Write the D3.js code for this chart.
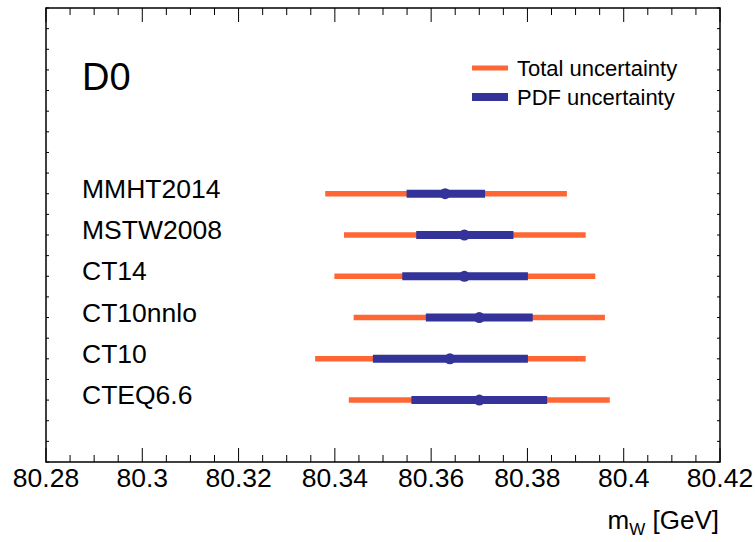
<!DOCTYPE html>
<html><head><meta charset="utf-8">
<script src="https://cdn.jsdelivr.net/npm/d3@7"></script>
<style>body{margin:0;background:#fff} text{font-family:"Liberation Sans",Arial,Helvetica,sans-serif;fill:#000}</style>
</head><body><svg id="c" width="755" height="542"></svg>
<script>
// ---- data ----
const pdfSets   = ["MMHT2014","MSTW2008","CT14","CT10nnlo","CT10","CTEQ6.6"];
const rowPos    = [6.5, 5.5, 4.5, 3.5, 2.5, 1.5];
const central   = [80.3629, 80.3669, 80.3669, 80.3700, 80.3639, 80.3700];
const totalLow  = [80.3380, 80.3419, 80.3399, 80.3439, 80.3359, 80.3429];
const totalHigh = [80.3882, 80.3921, 80.3941, 80.3961, 80.3921, 80.3971];
const pdfLow    = [80.3549, 80.3569, 80.3540, 80.3589, 80.3479, 80.3559];
const pdfHigh   = [80.3712, 80.3771, 80.3801, 80.3811, 80.3801, 80.3841];
const xTickValues = [80.28, 80.30, 80.32, 80.34, 80.36, 80.38, 80.40, 80.42];
const xTickLabels = ["80.28","80.3","80.32","80.34","80.36","80.38","80.4","80.42"];
const legendLabels = ["Total uncertainty","PDF uncertainty"];

const ORANGE = "#ff6633", BLUE = "#333399";
const svg = d3.select("#c");
const L = 46, R = 720, T = 8, B = 462;
const x = d3.scaleLinear().domain([80.28, 80.42]).range([L, R]);
const y = d3.scaleLinear().domain([0, 11]).range([B, T]);

// frame
svg.append("rect").attr("x", L).attr("y", T).attr("width", R - L).attr("height", B - T)
  .attr("fill", "none").attr("stroke", "#000").attr("stroke-width", 1.5);

// x ticks (bottom and top, inward)
const minorX = d3.range(0, 29).map(i => 80.28 + i * 0.005);
minorX.forEach((v, i) => {
  const major = i % 4 === 0;
  const len = major ? 14 : 7;
  const xp = x(v);
  svg.append("line").attr("x1", xp).attr("x2", xp).attr("y1", B).attr("y2", B - len)
    .attr("stroke", "#000").attr("stroke-width", 1);
  svg.append("line").attr("x1", xp).attr("x2", xp).attr("y1", T).attr("y2", T + len)
    .attr("stroke", "#000").attr("stroke-width", 1);
});
// y ticks (left/right, small)
d3.range(0, 23).map(i => i * 0.5).forEach(v => {
  const yp = y(v);
  svg.append("line").attr("x1", L).attr("x2", L + 3).attr("y1", yp).attr("y2", yp)
    .attr("stroke", "#000").attr("stroke-width", 1);
  svg.append("line").attr("x1", R).attr("x2", R - 3).attr("y1", yp).attr("y2", yp)
    .attr("stroke", "#000").attr("stroke-width", 1);
});
// x tick labels
xTickValues.forEach((v, i) => {
  svg.append("text").attr("x", x(v)).attr("y", 487).attr("text-anchor", "middle")
    .attr("font-size", 26.5).text(xTickLabels[i]);
});
// axis title
const t = svg.append("text").attr("x", 719).attr("y", 529).attr("text-anchor", "end").attr("font-size", 26);
t.append("tspan").text("m");
t.append("tspan").attr("font-size", 17).attr("dy", 6).text("W");
t.append("tspan").attr("dy", -6).text(" [GeV]");

// D0 label
svg.append("text").attr("x", 82).attr("y", 90).attr("font-size", 38).text("D0");

// legend
[ORANGE, BLUE].forEach((c, i) => {
  const ly = 68 + i * 29;
  svg.append("line").attr("x1", 472).attr("x2", 508).attr("y1", ly).attr("y2", ly)
    .attr("stroke", c).attr("stroke-width", i === 0 ? 5 : 8);
  svg.append("text").attr("x", 517).attr("y", ly + 8).attr("font-size", 22).text(legendLabels[i]);
});

// rows
pdfSets.forEach((name, i) => {
  const yp = y(rowPos[i]);
  svg.append("text").attr("x", 82).attr("y", yp + 4).attr("font-size", 26.5).text(name);
  svg.append("line").attr("x1", x(totalLow[i])).attr("x2", x(totalHigh[i])).attr("y1", yp).attr("y2", yp)
    .attr("stroke", ORANGE).attr("stroke-width", 5.5);
  svg.append("line").attr("x1", x(pdfLow[i])).attr("x2", x(pdfHigh[i])).attr("y1", yp).attr("y2", yp)
    .attr("stroke", BLUE).attr("stroke-width", 8);
  svg.append("circle").attr("cx", x(central[i])).attr("cy", yp).attr("r", 5.5).attr("fill", BLUE);
});
</script></body></html>
